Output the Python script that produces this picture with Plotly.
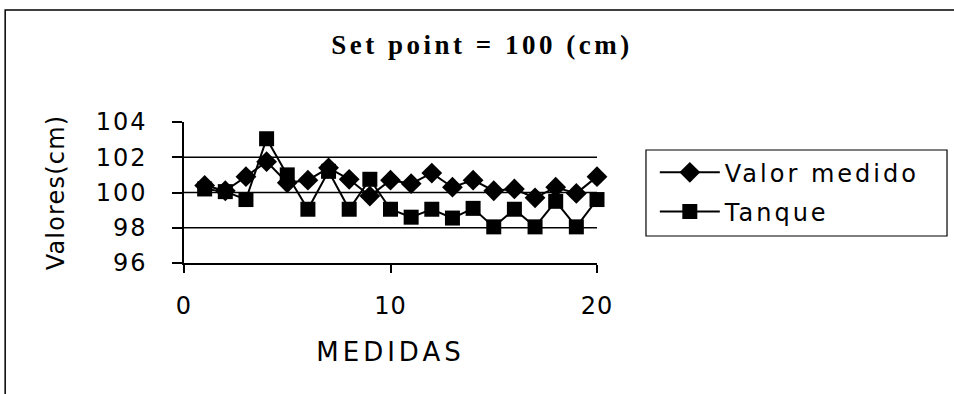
import plotly.graph_objects as go

# Measurements 1..20 against a 100 cm set point
medidas = list(range(1, 21))
valor_medido = [100.4, 100.1, 100.9, 101.75, 100.55, 100.7, 101.4, 100.75, 99.8, 100.7,
                100.5, 101.1, 100.3, 100.7, 100.1, 100.2, 99.7, 100.3, 99.95, 100.9]
tanque = [100.2, 100.05, 99.6, 103.05, 101.0, 99.05, 101.2, 99.05, 100.75, 99.05,
          98.6, 99.05, 98.55, 99.1, 98.05, 99.05, 98.05, 99.5, 98.05, 99.6]

x_ticks = [0, 10, 20]
y_ticks = [96, 98, 100, 102, 104]
grid_levels = [98, 100, 102]

SANS = "DejaVu Sans"
SERIF = "Liberation Serif"

fig = go.Figure()
fig.add_trace(go.Scatter(
    x=medidas, y=valor_medido, name="Valor medido", mode="lines+markers",
    line=dict(color="black", width=2),
    marker=dict(symbol="diamond", size=16, color="black"),
    legendgroup="a", cliponaxis=False,
))
fig.add_trace(go.Scatter(
    x=medidas, y=tanque, name="Tanque", mode="lines+markers",
    line=dict(color="black", width=2),
    marker=dict(symbol="square", size=15, color="black"),
    legendgroup="b", cliponaxis=False,
))

# horizontal gridlines
for g in grid_levels:
    fig.add_shape(type="line", xref="x", yref="y", x0=0, x1=20, y0=g, y1=g,
                  line=dict(color="black", width=1.5), layer="below")

# page frame and legend box
fig.add_shape(type="rect", xref="paper", yref="paper", x0=-0.433, x1=2.0, y0=-2.0, y1=1.795,
              line=dict(color="black", width=1.5))
fig.add_shape(type="rect", xref="paper", yref="paper", x0=1.1186, x1=1.8475, y0=0.1915, y1=0.8014,
              line=dict(color="black", width=1.2))

fig.update_layout(
    width=954, height=394,
    margin=dict(l=184, r=357, t=122, b=131),
    paper_bgcolor="white", plot_bgcolor="white",
    title=dict(text="<b>Set point = 100 (cm)</b>", x=482 / 954, xanchor="center",
               y=1 - 45 / 394, yanchor="middle",
               font=dict(family=SERIF, size=27, color="black")),
    xaxis=dict(range=[0, 20], tickvals=x_ticks, showgrid=False, zeroline=False,
               showline=True, linecolor="black", linewidth=1.5,
               ticks="outside", ticklen=8, tickcolor="black", tickwidth=1.5,
               ticklabelstandoff=12,
               tickfont=dict(family=SANS, size=24, color="black"),
               title=dict(text="MEDIDAS", standoff=24,
                          font=dict(family=SANS, size=26, color="black"))),
    yaxis=dict(range=[96, 104], tickvals=y_ticks, showgrid=False, zeroline=False,
               showline=True, linecolor="black", linewidth=1.5,
               ticks="outside", ticklen=10, tickcolor="black", tickwidth=1.5,
               ticklabelstandoff=20,
               tickfont=dict(family=SANS, size=24, color="black"),
               title=dict(text="Valores(cm)", standoff=30,
                          font=dict(family=SANS, size=24, color="black"))),
    legend=dict(x=1.14, y=0.80, xanchor="left", yanchor="top",
                bgcolor="rgba(0,0,0,0)", borderwidth=0,
                font=dict(family=SANS, size=24, color="black"),
                tracegroupgap=5, itemwidth=60),
    showlegend=True,
)

# widen letter spacing of the labels
spacing_js = """
var gd = document.getElementById('{plot_id}');
function sp(sel, v){ gd.querySelectorAll(sel).forEach(function(t){ t.style.letterSpacing = v; }); }
sp('text.gtitle', '3.5px');
sp('text.xtitle', '4px');
sp('text.ytitle', '1.2px');
sp('text.legendtext', '3px');
sp('.xtick text', '1px');
sp('.ytick text', '2px');
gd.querySelectorAll('.legend [clip-path], .legend').forEach(function(e){ e.removeAttribute('clip-path'); });
"""

fig.write_html("out.html", post_script=spacing_js)
